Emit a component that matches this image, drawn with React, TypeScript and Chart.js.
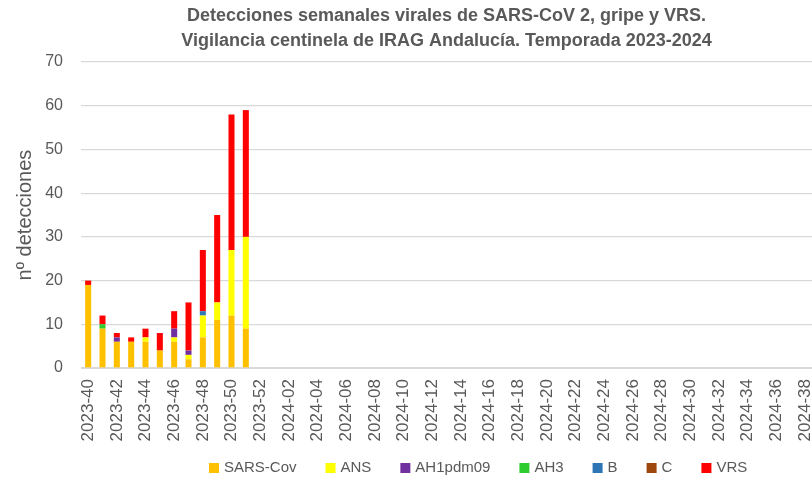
import React, { useEffect, useRef } from "react";
import { Chart, registerables } from "chart.js";

Chart.register(...registerables);

const weeks = [
  "2023-40", "2023-41", "2023-42", "2023-43", "2023-44", "2023-45", "2023-46", "2023-47", "2023-48", "2023-49",
  "2023-50", "2023-51", "2023-52", "2024-01", "2024-02", "2024-03", "2024-04", "2024-05", "2024-06", "2024-07",
  "2024-08", "2024-09", "2024-10", "2024-11", "2024-12", "2024-13", "2024-14", "2024-15", "2024-16", "2024-17",
  "2024-18", "2024-19", "2024-20", "2024-21", "2024-22", "2024-23", "2024-24", "2024-25", "2024-26", "2024-27",
  "2024-28", "2024-29", "2024-30", "2024-31", "2024-32", "2024-33", "2024-34", "2024-35", "2024-36", "2024-37",
  "2024-38",
];

const sarsCov = [19, 9, 6, 6, 6, 4, 6, 2, 7, 11, 12, 9];
const ans = [0, 0, 0, 0, 1, 0, 1, 1, 5, 4, 15, 21];
const ah1pdm09 = [0, 0, 1, 0, 0, 0, 2, 1, 0, 0, 0, 0];
const ah3 = [0, 1, 0, 0, 0, 0, 0, 0, 0, 0, 0, 0];
const fluB = [0, 0, 0, 0, 0, 0, 0, 0, 1, 0, 0, 0];
const fluC = [0, 0, 0, 0, 0, 0, 0, 0, 0, 0, 0, 0];
const vrs = [1, 2, 1, 1, 2, 4, 4, 11, 14, 20, 31, 29];

const titleLines = [
  "Detecciones semanales virales de SARS-CoV 2, gripe y VRS.",
  "Vigilancia centinela de IRAG Andalucía. Temporada 2023-2024",
];
const yTitle = "nº detecciones";

const TEXT = "#595959";
const GRID = "#d9d9d9";
const FONT = "'Liberation Sans', Arial, sans-serif";

const customLegend = {
  id: "customLegend",
  afterDraw(chart: any) {
    const ctx = chart.ctx;
    ctx.save();
    ctx.font = `15px ${FONT}`;
    ctx.textBaseline = "middle";
    ctx.textAlign = "left";
    let x = 209;
    const y = 468;
    chart.data.datasets.forEach((ds: any) => {
      ctx.fillStyle = ds.backgroundColor;
      ctx.fillRect(x, y - 5, 10, 10);
      ctx.fillStyle = TEXT;
      ctx.fillText(ds.label, x + 15, y);
      x += 15 + ctx.measureText(ds.label).width + 29;
    });
    ctx.restore();
  },
};

export default function App() {
  const ref = useRef<HTMLCanvasElement>(null);
  useEffect(() => {
    if (!ref.current) return;
    const mk = (label: string, data: number[], color: string) => ({
      label,
      data,
      backgroundColor: color,
      borderWidth: 0,
      categoryPercentage: 1,
      barPercentage: 0.42,
    });
    const chart = new Chart(ref.current, {
      type: "bar",
      data: {
        labels: weeks,
        datasets: [
          mk("SARS-Cov", sarsCov, "#FFC000"),
          mk("ANS", ans, "#FFFF00"),
          mk("AH1pdm09", ah1pdm09, "#7030A0"),
          mk("AH3", ah3, "#2ECC2E"),
          mk("B", fluB, "#2E75B6"),
          mk("C", fluC, "#9E480E"),
          mk("VRS", vrs, "#FF0000"),
        ],
      },
      plugins: [customLegend],
      options: {
        animation: false,
        responsive: false,
        maintainAspectRatio: false,
        layout: { padding: 0 },
        plugins: {
          legend: { display: false },
          tooltip: { enabled: false },
          title: {
            display: true,
            fullSize: false,
            text: titleLines,
            color: TEXT,
            font: { family: FONT, size: 18, weight: "bold", lineHeight: 1.39 },
            padding: { top: 4, bottom: 8 },
          },
        },
        scales: {
          x: {
            stacked: true,
            grid: { display: false, drawTicks: false },
            border: { display: true, color: GRID, width: 1 },
            ticks: {
              autoSkip: false,
              minRotation: 90,
              maxRotation: 90,
              padding: 11,
              color: TEXT,
              font: { family: FONT, size: 17 },
              callback: (_v: any, i: number) => (i % 2 === 0 ? weeks[i] : ""),
            },
            afterFit: (s: any) => {
              s.height = 110;
              s.paddingLeft = 0;
              s.paddingRight = 0;
            },
          },
          y: {
            stacked: true,
            min: 0,
            max: 70,
            grid: { color: GRID, lineWidth: 1.3, drawTicks: false },
            border: { display: false },
            ticks: {
              stepSize: 10,
              padding: 18,
              color: TEXT,
              font: { family: FONT, size: 16 },
            },
            title: {
              display: true,
              text: yTitle,
              color: TEXT,
              font: { family: FONT, size: 20, lineHeight: 1.2 },
              padding: { top: 13, bottom: 0 },
            },
            afterFit: (s: any) => {
              s.width = 81;
            },
          },
        },
      },
    } as any);
    return () => chart.destroy();
  }, []);
  return (
    <div style={{ position: "absolute", left: 0, top: 0, width: 812, height: 478, background: "#fff" }}>
      <canvas ref={ref} width={812} height={478} style={{ display: "block", width: 812, height: 478 }} />
    </div>
  );
}
